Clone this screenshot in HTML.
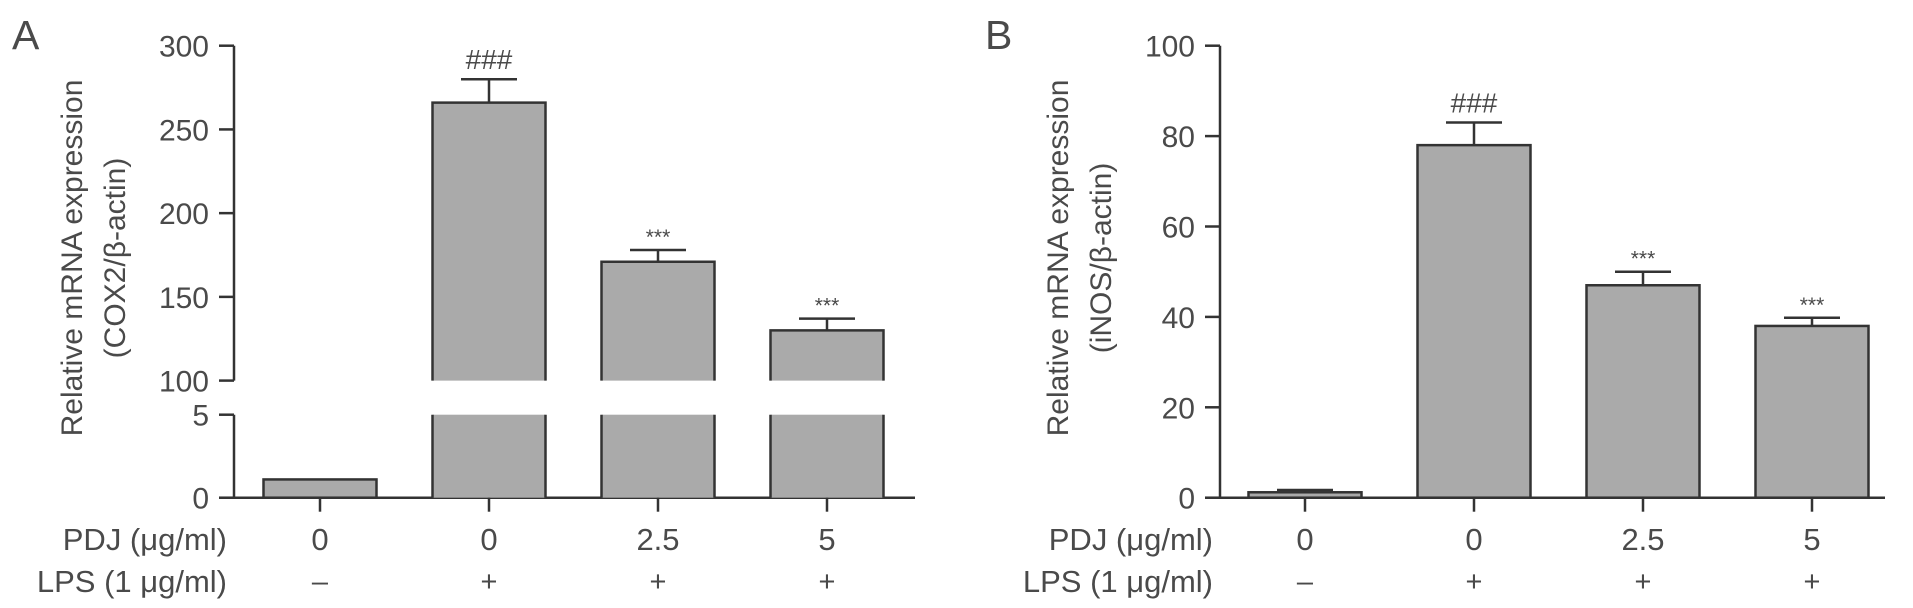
<!DOCTYPE html>
<html><head><meta charset="utf-8"><style>
html,body{margin:0;padding:0;background:#fff;}
svg{display:block;font-family:"Liberation Sans",sans-serif;}
</style></head><body>
<svg id="chart" width="1913" height="608" viewBox="0 0 1913 608" xmlns="http://www.w3.org/2000/svg"></svg>
<script>
// Panel A data
const categories = ["0","0","2.5","5"];
const lpsLabels = ["\u2013","+","+","+"];
const cox2Values = [1.1, 266, 171, 130];
const cox2Errors = [0, 14, 7, 7];
const cox2Marks = ["", "###", "***", "***"];
const cox2UpperTicks = [100,150,200,250,300];
const cox2LowerTicks = [0,5];
// Panel B data
const inosValues = [1.2, 78, 47, 38];
const inosErrors = [0.5, 5, 3, 1.8];
const inosMarks = ["", "###", "***", "***"];
const inosTicks = [0,20,40,60,80,100];

const NS="http://www.w3.org/2000/svg";
const svg=document.getElementById('chart');
const INK="#333", TXT="#4a4a4a", FILL="#aaaaaa";
function mk(tag,attrs,parent){const e=document.createElementNS(NS,tag);for(const k in attrs)e.setAttribute(k,attrs[k]);(parent||svg).appendChild(e);return e;}
function txt(s,x,y,size,anchor,parent){const t=mk('text',{x:x,y:y,'font-size':size,'text-anchor':anchor||'middle',fill:TXT},parent);t.textContent=s;return t;}

function panel(o){
  const g=mk('g',{});
  
  
  const lbl=txt(o.letter,o.letterX,49,41,'start',g);
  
  
  const yt=mk('g',{transform:`translate(${o.titleX},258) rotate(-90)`},g);
  
  
  txt("Relative mRNA expression",0,0,30,'middle',yt);
  txt(o.title2,0,43,30,'middle',yt);
  const xs=i=>o.x0+i*169;
  const axisX=o.axisX;
  o.axisSegments.forEach(s=>{
    const l=mk('line',{x1:axisX,x2:axisX,y1:s[0],y2:s[1],stroke:INK,'stroke-width':2.5},g);
    
    
  });
  o.ticks.forEach(t=>{
    const y=o.scale(t);
    const l=mk('line',{x1:axisX-15,x2:axisX,y1:y,y2:y,stroke:INK,'stroke-width':2.5},g);
    
    
    const tl=txt(String(t),axisX-25,y+11,30,'end',g);
    
    
  });
  const base=o.scale(0);
  const xa=mk('line',{x1:axisX-15,x2:o.axisEnd,y1:base,y2:base,stroke:INK,'stroke-width':2.5},g);
  
  
  o.values.forEach((v,i)=>{
    const cx=xs(i), w=113, left=cx-w/2;
    const top=o.scale(v);
    if(o.breakTop!==undefined && v>o.breakMax){
      const r1=mk('path',{d:`M${left},${o.breakBottom} L${left},${top} L${left+w},${top} L${left+w},${o.breakBottom}`,fill:FILL,stroke:INK,'stroke-width':2.5},g);
      
      
      const rf=mk('rect',{x:left,y:o.breakTop,width:w,height:base-o.breakTop,fill:FILL},g);
      
      
      const r2=mk('path',{d:`M${left},${base} L${left},${o.breakTop} M${left+w},${o.breakTop} L${left+w},${base}`,stroke:INK,'stroke-width':2.5},g);
      
      
    } else {
      const r=mk('rect',{x:left,y:top,width:w,height:base-top,fill:FILL,stroke:INK,'stroke-width':2.5},g);
      
      
    }
    const e=o.errors[i];
    if(e>0){
      const ey=o.scale(v+e);
      const el=mk('path',{d:`M${cx},${top} L${cx},${ey} M${cx-28},${ey} L${cx+28},${ey}`,stroke:INK,'stroke-width':2.5,fill:'none'},g);
      
      
      if(o.marks[i]){
        const m=o.marks[i];
        const t=txt(m,cx,m==="###"?ey-10:ey-6,m==="###"?28:21,'middle',g);
        
        
      }
    }
    const tk=mk('line',{x1:cx,x2:cx,y1:base,y2:base+14,stroke:INK,'stroke-width':2.5},g);
    
    
    const c=txt(categories[i],cx,550,31,'middle',g);
    
    
    const p=txt(lpsLabels[i],cx,591,29,'middle',g);
    
    
  });
  const r1=txt("PDJ (\u03bcg/ml)",o.rowLabelX,550,31,'end',g);
  
  
  const r2=txt("LPS (1 \u03bcg/ml)",o.rowLabelX,592,31,'end',g);
  
  
}

const aUp0=380.6, aUpPx=(380.6-45.7)/200, aLo0=497.7, aLoPx=(497.7-414.7)/5;
function scaleA(v){return v<=5? aLo0-v*aLoPx : aUp0-(v-100)*aUpPx;}
panel({name:'panel-a-cox2',letter:'A',letterX:12,titleX:82,title2:"(COX2/\u03b2-actin)",
  x0:320,axisX:234,axisEnd:915,scale:scaleA,ticks:cox2UpperTicks.concat(cox2LowerTicks),
  axisSegments:[[45.7,380.6],[414.7,497.7]],breakTop:414.7,breakBottom:380.6,breakMax:5,
  values:cox2Values,errors:cox2Errors,marks:cox2Marks,rowLabelX:227});

const bPx=(497.7-45.7)/100;
function scaleB(v){return 497.7-v*bPx;}
panel({name:'panel-b-inos',letter:'B',letterX:985,titleX:1068,title2:"(iNOS/\u03b2-actin)",
  x0:1305,axisX:1220,axisEnd:1885,scale:scaleB,ticks:inosTicks,
  axisSegments:[[45.7,497.7]],
  values:inosValues,errors:inosErrors,marks:inosMarks,rowLabelX:1213});
</script>
</body></html>
